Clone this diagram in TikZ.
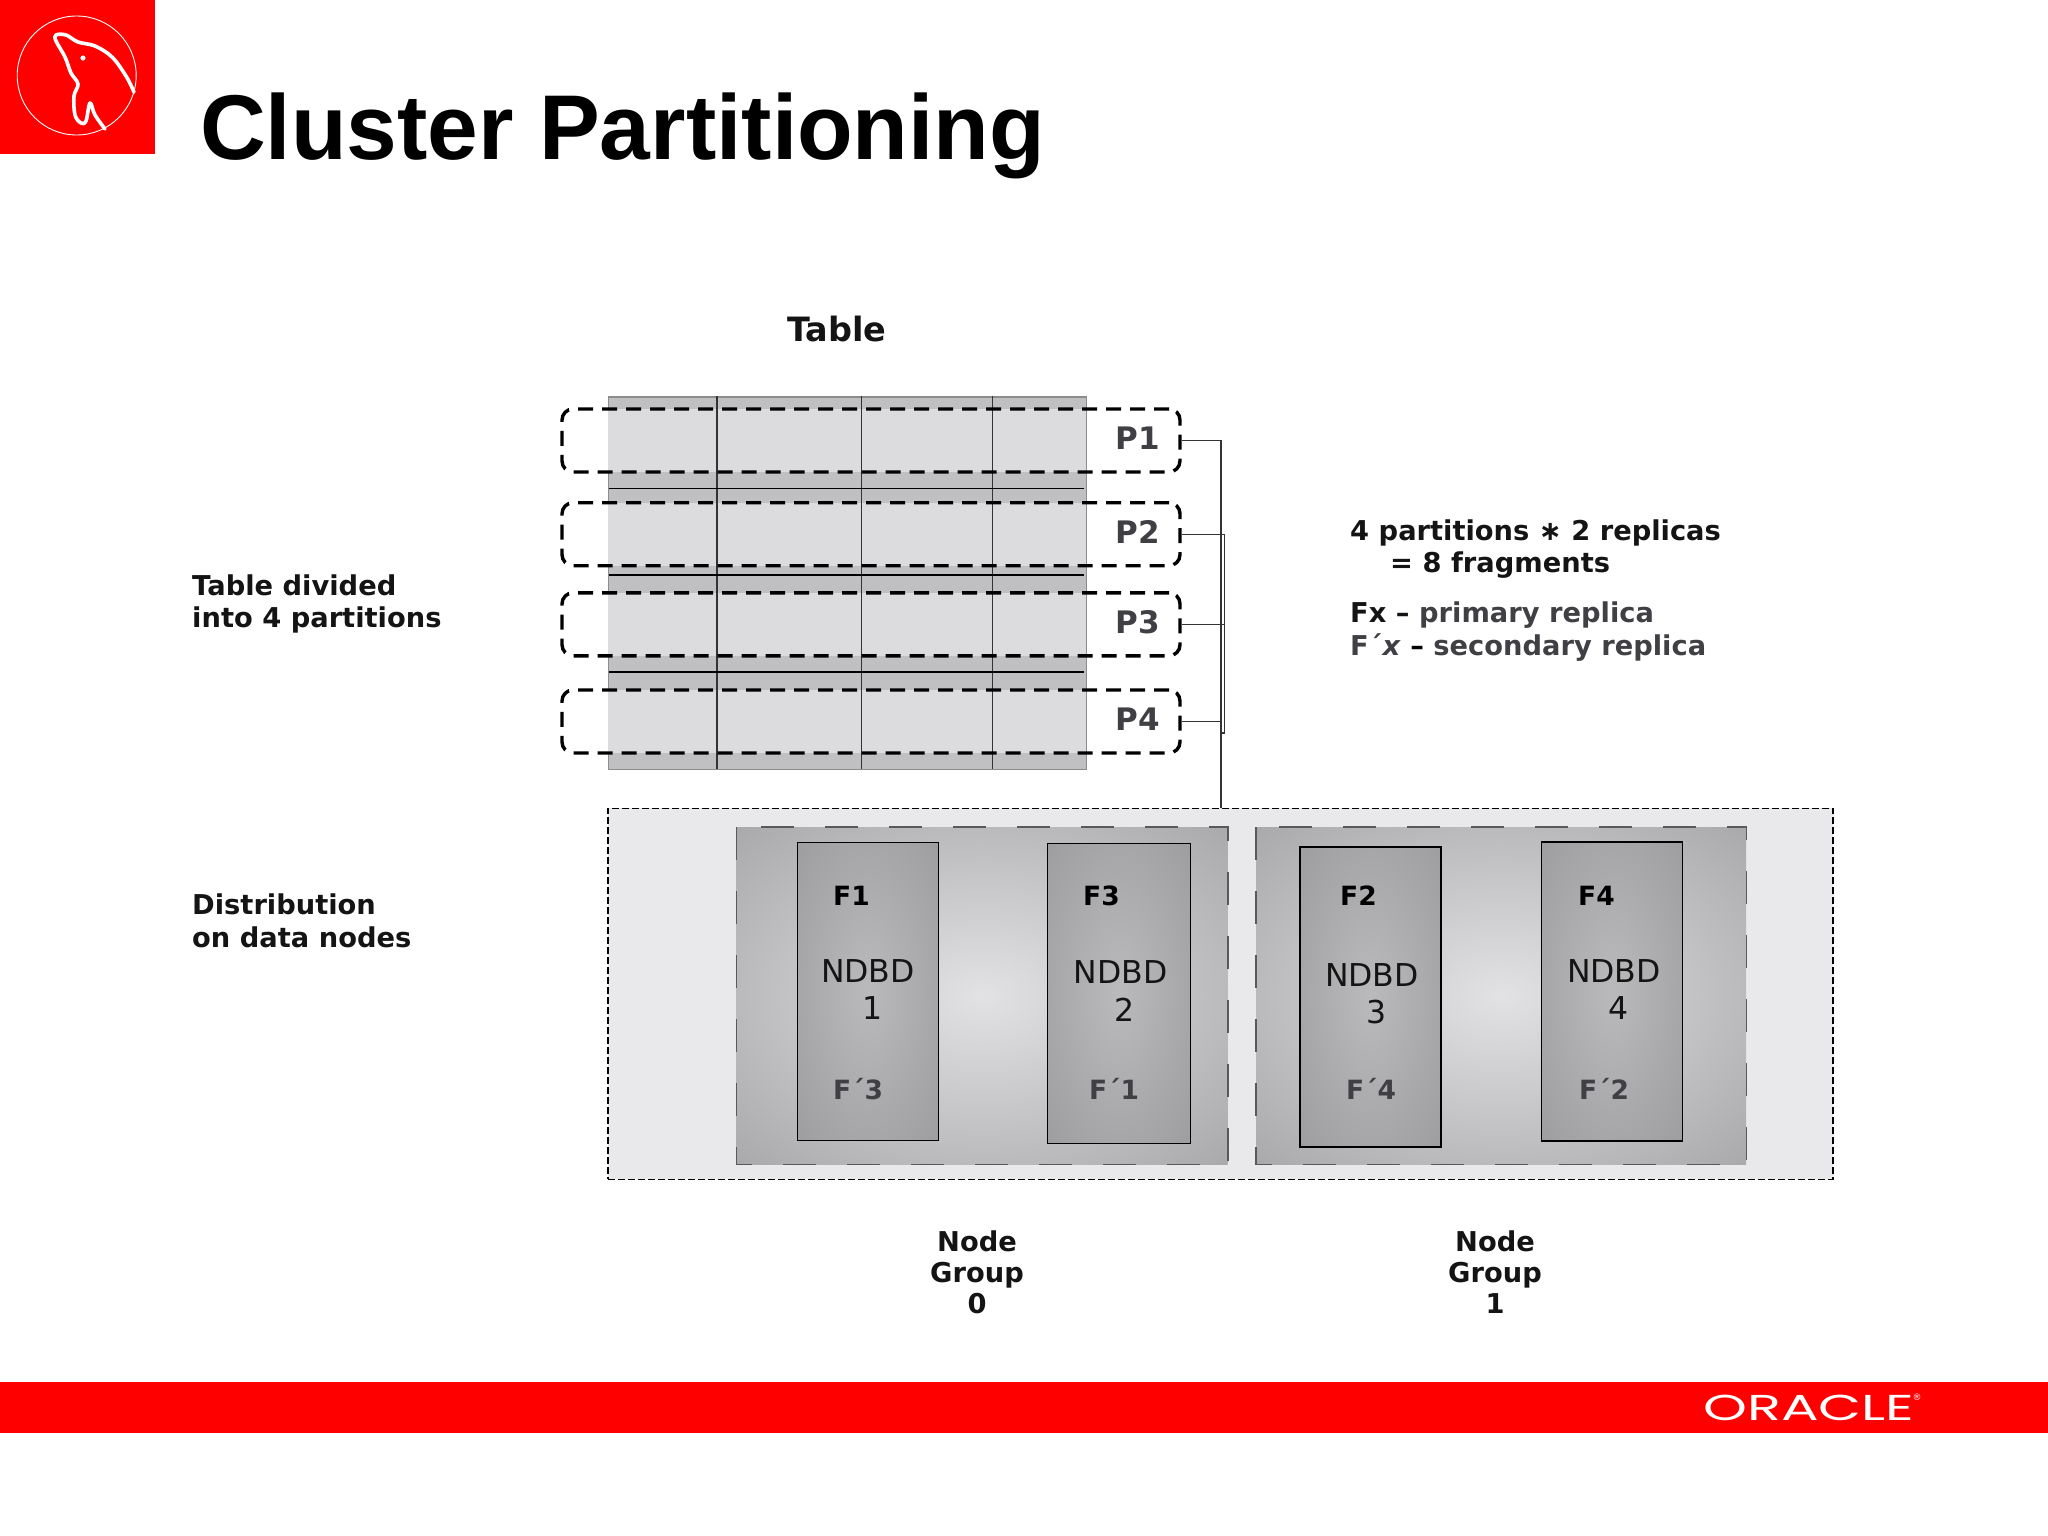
\documentclass[tikz,border=0pt]{standalone}
\usepackage{fontspec}
\setmainfont{DejaVu Sans}
\newfontfamily\titlefont{Liberation Sans}
\newfontfamily\logofont{Poppins}
\definecolor{brandred}{HTML}{FF0000}
\definecolor{tabdark}{HTML}{C0C0C2}
\definecolor{tablight}{HTML}{DCDCDF}
\definecolor{distfill}{HTML}{E9E9EC}
\definecolor{softtext}{HTML}{3F3F44}
\definecolor{gmid}{HTML}{E2E2E4}
\definecolor{gout}{HTML}{929294}
\definecolor{nmid}{HTML}{BABABC}
\definecolor{nout}{HTML}{929294}
\pgfdeclareradialshading{softgroup}{\pgfpoint{0bp}{0bp}}{color(0bp)=(gmid); color(50bp)=(gout); color(70bp)=(gout)}
\pgfdeclareradialshading{softndbd}{\pgfpoint{0bp}{0bp}}{color(0bp)=(nmid); color(50bp)=(nout); color(70bp)=(nout)}
\tikzset{
  partbox/.style={draw=black,line width=3.4pt,rounded corners=11pt,dash pattern=on 15pt off 9pt,minimum width=618pt,minimum height=63pt,inner sep=0pt},
  band/.style={fill=tablight,draw=none,minimum width=478pt,minimum height=63pt,inner sep=0pt},
  plabel/.style={font=\fontsize{31}{31}\selectfont\bfseries,text=softtext,inner sep=0pt},
  note/.style={font=\fontsize{27.3}{32.6}\selectfont\bfseries,align=left,anchor=west,inner sep=0pt,text=black!92},
  grouplabel/.style={font=\fontsize{27.3}{31}\selectfont\bfseries,align=center,inner sep=0pt,text=black!92},
  groupbox/.style={shading=softgroup,inner sep=0pt},
  groupedge/.style={draw=black!65,line width=1.6pt,dash pattern=on 33pt off 31pt},
  ndbdbox/.style={shading=softndbd,draw=black,line width=1.6pt,inner sep=0pt},
  fprimary/.style={font=\fontsize{26.5}{26.5}\selectfont\bfseries,anchor=west,inner sep=0pt},
  fsecond/.style={font=\fontsize{26.5}{26.5}\selectfont\bfseries,anchor=west,inner sep=0pt,text=softtext},
  ndbdtext/.style={font=\fontsize{31.5}{31.5}\selectfont,inner sep=0pt,text=black!92},
  rowline/.style={draw=black,line width=1.5pt},
  colline/.style={draw=black!80,line width=1.5pt},
  wire/.style={draw=black!80,line width=1.2pt},
  logoline/.style={draw=white,line width=3.6pt,line cap=round,line join=round}
}
\begin{document}
\begin{tikzpicture}[x=1pt,y=-1pt]
\useasboundingbox (0,0) rectangle (2048,1536);
% logo square
\node[fill=brandred,minimum width=154.5pt,minimum height=154pt,inner sep=0pt,anchor=north west] (logo) at (0,0) {};
\draw[white,line width=0.9pt] (76.7,75.5) circle (59.5);
\draw[logoline] plot[smooth,tension=0.6] coordinates {(134,92) (126,76) (112,57) (95,46) (78,42) (66,35) (56,35) (56,41) (65,57) (71,73) (78,84) (74,96) (75,115) (81,123) (86,121) (90,103) (95,115) (105,129)};
\fill[white] (83,58) circle (2.6);
% title
\node[font=\fontsize{92}{92}\selectfont\titlefont\bfseries,anchor=base west,inner sep=0pt,xscale=0.99] (title) at (200,160) {Cluster Partitioning};
% table
\node[font=\fontsize{33.5}{33.5}\selectfont\bfseries,inner sep=0pt,text=black!92] (tabletitle) at (837,329) {Table};
\node[fill=tabdark,draw=black!45,line width=1.6pt,minimum width=478pt,minimum height=372.5pt,inner sep=0pt,anchor=north west] (tablebody) at (607.5,396) {};
\node[band] (b1) at (846.5,440.5) {};
\node[band] (b2) at (846.5,534.2) {};
\node[band] (b3) at (846.5,624.3) {};
\node[band] (b4) at (846.5,721.5) {};
\coordinate (c1t) at (717,396); \coordinate (c1b) at (717,768.5);
\coordinate (c2t) at (861.5,396); \coordinate (c2b) at (861.5,768.5);
\coordinate (c3t) at (992.7,396); \coordinate (c3b) at (992.7,768.5);
\draw[colline] (c1t) -- (c1b);
\draw[colline] (c2t) -- (c2b);
\draw[colline] (c3t) -- (c3b);
\coordinate (r1l) at (609,488.3); \coordinate (r1r) at (1084,488.3);
\coordinate (r2l) at (609,575); \coordinate (r2r) at (1084,575);
\coordinate (r3l) at (609,672); \coordinate (r3r) at (1084,672);
\draw[rowline] (r1l) -- (r1r);
\draw[rowline] (r2l) -- (r2r);
\draw[rowline] (r3l) -- (r3r);
% partitions
\node[partbox] (p1) at (871,440.5) {};
\node[partbox] (p2) at (871,534.2) {};
\node[partbox] (p3) at (871,624.3) {};
\node[partbox] (p4) at (871,721.5) {};
\node[plabel] (lp1) at (1138,438) {P1};
\node[plabel] (lp2) at (1138,532) {P2};
\node[plabel] (lp3) at (1138,622) {P3};
\node[plabel] (lp4) at (1138,719) {P4};
% distribution
\node[fill=distfill,draw=black,line width=1.5pt,dash pattern=on 7pt off 3pt,minimum width=1225pt,minimum height=371pt,inner sep=0pt,anchor=north west] (dist) at (607,807.5) {};
\coordinate (busA) at (1221,807.5);
\coordinate (busB) at (1224.5,733);
\coordinate (busC) at (1221,733);
\draw[wire] (p1.east) -| (busA);
\draw[wire] (p2.east) -| (busB) -- (busC);
\draw[wire] (p3.east) -- (p3.east -| busB);
\draw[wire] (p4.east) -- (p4.east -| busA);
% node groups
\node[groupbox,minimum width=491pt,minimum height=337pt,anchor=north west] (g0) at (736.5,827) {};
\node[groupbox,minimum width=490pt,minimum height=337pt,anchor=north west] (g1) at (1256,827) {};
\draw[groupedge] (g0.north west) rectangle (g0.south east);
\draw[groupedge] (g1.north west) rectangle (g1.south east);
\node[ndbdbox,minimum width=141pt,minimum height=298pt,anchor=north west] (n1) at (796.5,841.5) {};
\node[ndbdbox,minimum width=143pt,minimum height=300pt,anchor=north west] (n2) at (1046.5,842.5) {};
\node[ndbdbox,minimum width=141pt,minimum height=300pt,anchor=north west] (n3) at (1299,846) {};
\node[ndbdbox,minimum width=141pt,minimum height=299pt,anchor=north west] (n4) at (1540.5,841) {};
\node[fprimary] (f1) at (833,896) {F1};
\node[fprimary] (f3) at (1083,896) {F3};
\node[fprimary] (f2) at (1340,896) {F2};
\node[fprimary] (f4) at (1578,896) {F4};
\node[fsecond] (s3) at (833,1089) {F´3};
\node[fsecond] (s1) at (1089,1089) {F´1};
\node[fsecond] (s4) at (1346,1089) {F´4};
\node[fsecond] (s2) at (1579,1089) {F´2};
\node[ndbdtext] (t1) at (868,971) {NDBD};
\node[ndbdtext] (d1) at (873,1008) {1};
\node[ndbdtext] (t2) at (1120.5,972) {NDBD};
\node[ndbdtext] (d2) at (1125,1010) {2};
\node[ndbdtext] (t3) at (1372,975) {NDBD};
\node[ndbdtext] (d3) at (1377,1012) {3};
\node[ndbdtext] (t4) at (1614,971) {NDBD};
\node[ndbdtext] (d4) at (1619,1008) {4};
% notes
\node[note] (n-div) at (192,604) {Table divided\\into 4 partitions};
\node[note] (n-dist) at (192,921) {Distribution\\on data nodes};
\node[note] (n-form) at (1350,532.5) {4 partitions ∗ 2 replicas};
\node[note] (n-form2) at (1390,565.5) {= 8 fragments};
\node[note] (n-fx) at (1350,615) {Fx \textbf{–} {\color{softtext}primary replica}};
\node[note,text=softtext] (n-fpx) at (1350,647.5) {F´\textit{x} {\color{black}–} secondary replica};
\node[grouplabel] (g0l) at (977,1272.5) {Node\\Group\\0};
\node[grouplabel] (g1l) at (1495,1272.5) {Node\\Group\\1};
% footer
\node[fill=brandred,minimum width=2048pt,minimum height=51pt,inner sep=0pt,anchor=north west] (bar) at (0,1382) {};
\node[font=\fontsize{36}{36}\selectfont\logofont,text=white,inner sep=0pt,xscale=1.55] (oracle) at (1809,1408) {ORACLE};
\node[font=\fontsize{9}{9}\selectfont,text=white,inner sep=0pt] (reg) at (1917,1397) {®};
\end{tikzpicture}
\end{document}
